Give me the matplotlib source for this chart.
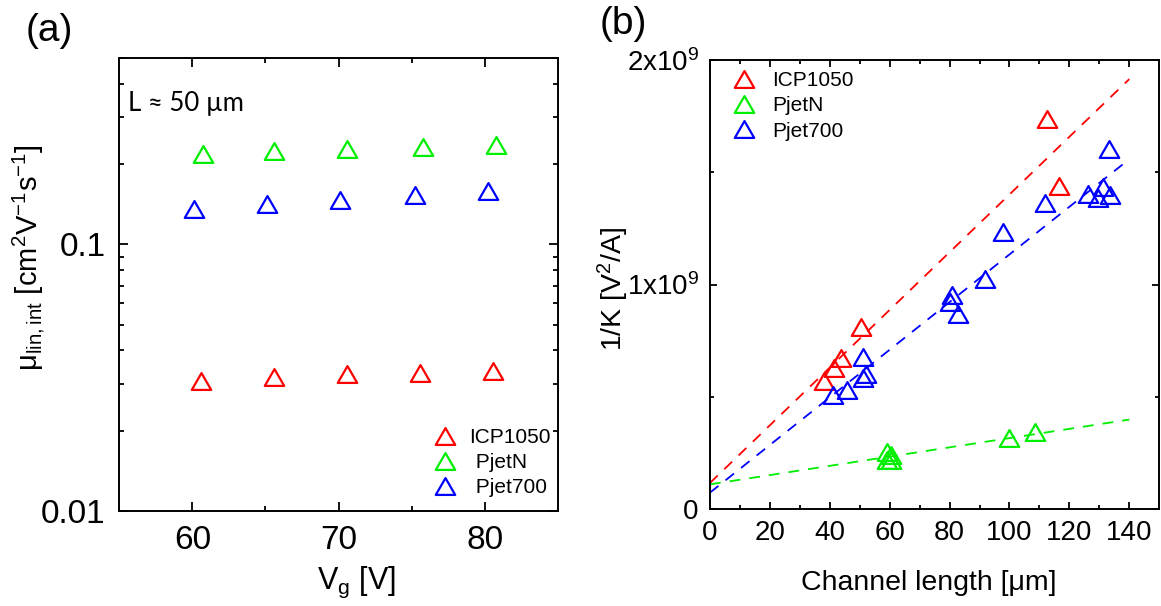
import numpy as np
import matplotlib
matplotlib.use("Agg")
import matplotlib.pyplot as plt
from matplotlib.path import Path
from matplotlib.ticker import FixedLocator, NullFormatter

plt.rcParams['font.family'] = ['Liberation Sans', 'DejaVu Sans']
plt.rcParams['mathtext.fontset'] = 'custom'
plt.rcParams['mathtext.rm'] = 'Liberation Sans'
plt.rcParams['mathtext.it'] = 'Liberation Sans:italic'
plt.rcParams['mathtext.bf'] = 'Liberation Sans:bold'

# ---- panel (a): mobility vs gate voltage (L ~ 50 um)
series_names = ["ICP1050", "PjetN", "Pjet700"]
legend_a = ["ICP1050", " PjetN", " Pjet700"]
colors = ["#ff0000", "#00ee00", "#0000ff"]

vg_icp = [60.6, 65.6, 70.6, 75.6, 80.6]
mu_icp = [0.0308, 0.0318, 0.0325, 0.0330, 0.0334]
vg_pjetn = [60.7, 65.6, 70.6, 75.8, 80.8]
mu_pjetn = [0.219, 0.224, 0.229, 0.232, 0.236]
vg_pjet700 = [60.1, 65.1, 70.1, 75.2, 80.2]
mu_pjet700 = [0.136, 0.142, 0.147, 0.153, 0.159]

# ---- panel (b): 1/K vs channel length
L_icp = [38.0, 41.5, 43.6, 50.4, 112.4, 116.4]
invK_icp = [0.572e9, 0.630e9, 0.672e9, 0.811e9, 1.739e9, 1.440e9]
L_pjetn = [59.0, 60.3, 59.2, 60.5, 99.9, 108.5]
invK_pjetn = [0.255e9, 0.240e9, 0.220e9, 0.220e9, 0.315e9, 0.344e9]
L_pjet700 = [41.2, 45.6, 51.0, 51.0, 52.0, 80.0, 80.7, 82.9, 91.8, 97.7,
             111.7, 126.3, 129.7, 131.3, 133.6, 133.2]
invK_pjet700 = [0.508e9, 0.530e9, 0.678e9, 0.585e9, 0.600e9, 0.920e9, 0.955e9,
                0.868e9, 1.026e9, 1.236e9, 1.362e9, 1.405e9, 1.384e9, 1.433e9,
                1.400e9, 1.605e9]

# linear fits (intercept, slope per um)
fit_intercept = [0.116e9, 0.110e9, 0.073e9]
fit_slope = [0.01285e9, 0.00206e9, 0.01061e9]
fit_range = [0, 140]

# equilateral triangle marker
tri = Path([(-1, -0.866), (1, -0.866), (0, 0.866), (-1, -0.866)],
           [Path.MOVETO, Path.LINETO, Path.LINETO, Path.CLOSEPOLY])
mk = dict(marker=tri, ms=14, mfc='none', mew=1.6, ls='none')

fig = plt.figure(figsize=(11.61, 6.06), dpi=100)

# ---------------- panel (a)
ax1 = fig.add_axes([0.1028, 0.1573, 0.3776, 0.7465])
for vg, mu, c, lab in zip([vg_icp, vg_pjetn, vg_pjet700],
                          [mu_icp, mu_pjetn, mu_pjet700], colors, legend_a):
    ax1.plot(vg, mu, color=c, mec=c, label=lab, **mk)
ax1.set_yscale('log')
ax1.set_xlim(55, 85)
ax1.set_ylim(0.01, 0.5)
ax1.xaxis.set_major_locator(FixedLocator([60, 70, 80]))
ax1.xaxis.set_minor_locator(FixedLocator([65, 75]))
ax1.yaxis.set_major_locator(FixedLocator([0.01, 0.1]))
ax1.yaxis.set_minor_locator(FixedLocator([0.02, 0.03, 0.04, 0.05, 0.06, 0.07, 0.08, 0.09,
                                          0.2, 0.3, 0.4, 0.5]))
ax1.yaxis.set_minor_formatter(NullFormatter())
ax1.set_yticklabels(['0.01', '0.1'])
ax1.tick_params(which='both', direction='in', top=True, right=True, width=1.3)
ax1.tick_params(which='major', length=6.5, labelsize=24, pad=10)
ax1.tick_params(which='minor', length=3.3)
ax1.set_xlabel('V$_{\\rm g}$ [V]', fontsize=22)
ax1.xaxis.set_label_coords(0.54, -0.12)
ax1.set_ylabel('μ$_{\\rm lin,int}$ [cm$^2$V$^{\\mathrm{-}1}$s$^{\\mathrm{-}1}$]', fontsize=21)
ax1.yaxis.set_label_coords(-0.165, 0.56)
ax1.text(0.02, 0.9, 'L ≈ 50 µm', transform=ax1.transAxes, fontsize=18.5,
         family=['Lato', 'DejaVu Sans'], va='center', ha='left')
ax1.legend(loc='upper left', bbox_to_anchor=(0.718, 0.183), frameon=False,
           fontsize=15, handlelength=1.0, handletextpad=0.7,
           labelspacing=0.3, borderpad=0, borderaxespad=0)
for s in ax1.spines.values():
    s.set_linewidth(1.4)

# ---------------- panel (b)
ax2 = fig.add_axes([0.6115, 0.16, 0.387, 0.741])
xs = np.array(fit_range, dtype=float)
for b0, k, c in zip(fit_intercept, fit_slope, colors):
    ax2.plot(xs, b0 + k * xs, color=c, ls=(0, (6, 5)), lw=1.3)
for L, y, c, lab in zip([L_icp, L_pjetn, L_pjet700],
                        [invK_icp, invK_pjetn, invK_pjet700], colors, series_names):
    ax2.plot(L, y, color=c, mec=c, label=lab, **mk)
ax2.set_xlim(0, 150)
ax2.set_ylim(0, 2e9)
ax2.xaxis.set_major_locator(FixedLocator([0, 20, 40, 60, 80, 100, 120, 140]))
ax2.xaxis.set_minor_locator(FixedLocator([10, 30, 50, 70, 90, 110, 130]))
ax2.yaxis.set_major_locator(FixedLocator([0, 1e9, 2e9]))
ax2.yaxis.set_minor_locator(FixedLocator([0.5e9, 1.5e9]))
ax2.set_yticklabels(['0', '1x10$^9$', '2x10$^9$'])
ax2.tick_params(which='both', direction='in', top=True, right=True, width=1.3)
ax2.tick_params(which='major', length=5, labelsize=20, pad=8)
ax2.tick_params(which='minor', length=3)
ax2.set_xlabel('Channel length [μm]', fontsize=20.5)
ax2.xaxis.set_label_coords(0.487, -0.135)
ax2.set_ylabel('1/K [V$^2$/A]', fontsize=20.5)
ax2.yaxis.set_label_coords(-0.175, 0.49)
ax2.legend(loc='upper left', bbox_to_anchor=(0.052, 0.975), frameon=False,
           fontsize=15, handlelength=1.0, handletextpad=0.87,
           labelspacing=0.3, borderpad=0, borderaxespad=0)
for s in ax2.spines.values():
    s.set_linewidth(1.4)

fig.text(26 / 1161, 1 - 31 / 606, '(a)', fontsize=28, va='center', ha='left')
fig.text(600 / 1161, 1 - 24 / 606, '(b)', fontsize=28, va='center', ha='left')

fig.savefig('out.png', dpi=100)
